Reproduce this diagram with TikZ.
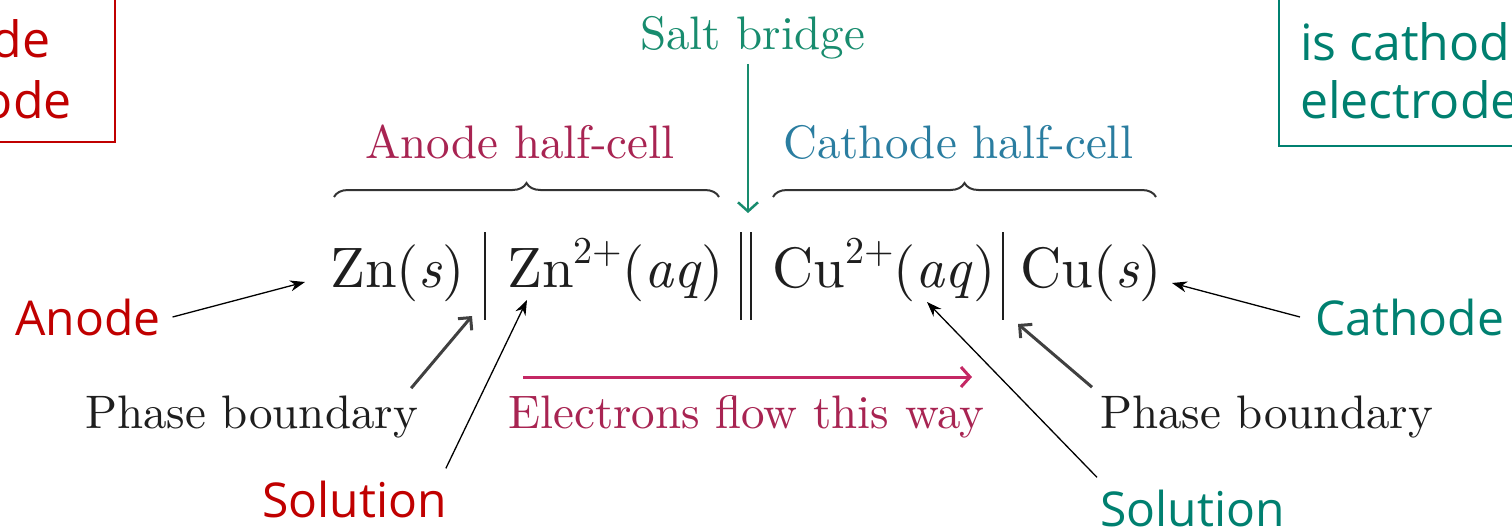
\documentclass[tikz,border=0pt]{standalone}
\usepackage{fontspec}
\setmainfont{lmroman10}[Extension=.otf, UprightFont=*-regular, ItalicFont=*-italic, BoldFont=*-bold]
\usetikzlibrary{arrows.meta,decorations.pathreplacing}
\newfontfamily\osans{Open Sans}
\definecolor{ored}{RGB}{192,0,0}
\definecolor{oteal}{RGB}{0,128,112}
\definecolor{sbteal}{RGB}{24,140,110}
\definecolor{crim}{RGB}{168,36,82}
\definecolor{crimarrow}{RGB}{196,40,100}
\definecolor{cblue}{RGB}{42,125,160}
\definecolor{ink}{RGB}{30,30,30}
\newcommand\mysup[1]{\raisebox{0.42em}{\fontsize{38}{40}\selectfont #1}}
\begin{document}
\begin{tikzpicture}[x=1pt,y=-1pt,
  lbl/.style={inner sep=0pt, anchor=base west},
  ser/.style={lbl, font=\fontsize{47}{56}\selectfont},
  frm/.style={lbl, text=ink, font=\fontsize{57}{64}\selectfont},
  sns/.style={lbl, font=\osans\fontsize{48}{58}\selectfont},
  boxt/.style={inner sep=0pt, font=\osans\fontsize{50}{60}\selectfont},
  blk/.style={draw=black, line width=1.3pt, -{Stealth[length=15pt,width=11pt]}},
  phs/.style={draw=black!75, line width=3pt, -{Straight Barb[length=9pt,width=18pt]}},
  bar/.style={draw=ink, line width=2.2pt},
  brc/.style={draw=black!80, line width=2pt, decorate, decoration={brace, amplitude=14pt}}
]
\useasboundingbox (0,0) rectangle (1512,527);

% top boxes (partly outside the picture)
\draw[ored, line width=1.5pt] (-300,-20) rectangle (115,142);
\node[boxt, text=ored, anchor=base east] (lel) at (72,118) {electrode};
\node[boxt, text=ored, anchor=base west] (lis) at ([yshift=60pt]lel.base west) {is anode};
\draw[oteal, line width=1.5pt] (1279,146) rectangle (1700,-20);
\node[boxt, text=oteal, anchor=base west] (ris) at (1300,60) {is cathode};
\node[boxt, text=oteal, anchor=base west] (rel) at (1300,118) {electrode};

% formula
\node[frm] (zns) at (330,287) {Zn(\textit{s})};
\draw[bar] (485,232) -- (485,320);
\node[frm] (znaq) at (507,287) {Zn\mysup{2+}(\textit{aq})};
\draw[bar] (741,232) -- (741,320);
\draw[bar] (751,232) -- (751,320);
\node[frm] (cuaq) at (772,287) {Cu\mysup{2+}(\textit{aq})};
\draw[bar] (1003,232) -- (1003,320);
\node[frm] (cus) at (1020,287) {Cu(\textit{s})};

% top labels
\node[ser, text=sbteal] (salt) at (640,50) {Salt bridge};
\node[ser, text=crim] (ahc) at (365,158) {Anode half-cell};
\node[ser, text=cblue] (chc) at (783,158) {Cathode half-cell};
\draw[brc] (334,197) -- (719,197);
\draw[brc] (773,197) -- (1156,197);
\coordinate (sbtip) at (748,213);
\draw[draw=sbteal, line width=2.5pt, -{Straight Barb[length=9pt,width=20pt]}] ([yshift=-14pt]sbtip |- salt.base) -- (sbtip);

% bottom labels
\node[ser, text=ink] (pbl) at (85,428) {Phase boundary};
\node[ser, text=crim] (eflow) at (508,428) {Electrons flow this way};
\node[ser, text=ink] (pbr) at (1100,428) {Phase boundary};
\coordinate (etail) at (523,377);
\coordinate (etip) at (972,377);
\draw[draw=crimarrow, line width=3pt, -{Straight Barb[length=9pt,width=20pt]}] (etail) -- (etip);

% red / teal labels
\node[sns, text=ored] (anode) at (15,335) {Anode};
\node[sns, text=oteal] (cathode) at (1315,335) {Cathode};
\node[sns, text=ored] (solL) at (262,517) {Solution};
\node[sns, text=oteal] (solR) at (1100,526) {Solution};

% connectors
\coordinate (tAnode) at (305,282);
\coordinate (tPL) at (472,316);
\coordinate (tSL) at (527,300);
\coordinate (tSR) at (927,302);
\coordinate (tPR) at (1018,324);
\coordinate (tCat) at (1172,283);
\draw[blk] ([xshift=12pt]anode.east) -- (tAnode);
\draw[phs] ([shift={(-7pt,7pt)}]pbl.north east) -- (tPL);
\draw[blk] ([shift={(-1pt,12pt)}]solL.north east) -- (tSL);
\draw[blk] ([shift={(-3pt,12pt)}]solR.north west) -- (tSR);
\draw[phs] ([shift={(-8pt,8pt)}]pbr.north west) -- (tPR);
\draw[blk] ([xshift=-15pt]cathode.west) -- (tCat);
\end{tikzpicture}
\end{document}
